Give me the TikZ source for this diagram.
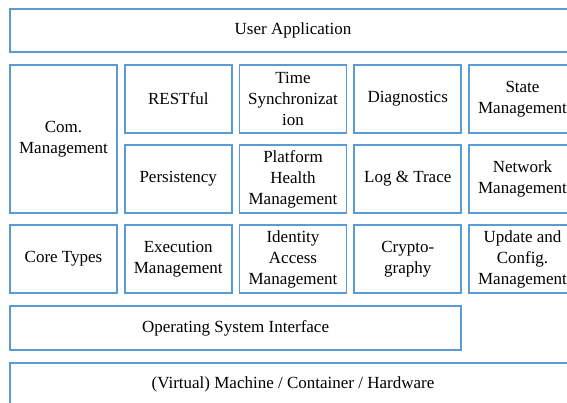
\documentclass[tikz,border=0pt]{standalone}
\usepackage{fontspec}
\setmainfont{Liberation Serif}[Ligatures=TeX]
\definecolor{boxblue}{RGB}{91,155,213}
\tikzset{
	blk/.style={draw=boxblue,line width=1.6pt,minimum width=107pt,minimum height=68pt,
		inner sep=1pt,align=center,font=\rmfamily\fontsize{17}{21}\selectfont},
	wideblk/.style={blk,minimum height=43pt}
}
\begin{document}
\begin{tikzpicture}[x=1pt,y=-1pt]
	
	\clip (0,0) rectangle (567,403);
	
	\node[wideblk,minimum width=566pt] (app) at (293,30.5) {User Application};
	
	\node[blk,minimum height=148pt] (com) at (63.5,139) {Com.\\Management};
	\node[blk] (rest) at (178.25,99) {RESTful};
	\node[blk] (time) at (293,99) {Time\\Synchronizat\\ion};
	\node[blk] (diag) at (407.75,99) {Diagnostics};
	\node[blk] (state) at (522.5,99) {State\\Management};
	
	\node[blk] (pers) at (178.25,179) {Persistency};
	\node[blk] (phm) at (293,179) {Platform\\Health\\Management};
	\node[blk] (log) at (407.75,179) {Log \& Trace};
	\node[blk] (net) at (522.5,179) {Network\\Management};
	
	\node[blk] (core) at (63.5,259) {Core Types};
	\node[blk] (exec) at (178.25,259) {Execution\\Management};
	\node[blk] (iam) at (293,259) {Identity\\Access\\Management};
	\node[blk] (crypto) at (407.75,259) {Crypto-\\graphy};
	\node[blk] (ucm) at (522.5,259) {Update and\\Config.\\Management};
	
	\node[wideblk,minimum width=451.25pt,minimum height=44pt] (osi) at (235.6,328) {Operating System Interface};
	\node[wideblk,minimum width=566pt] (hw) at (293,384.5) {(Virtual) Machine / Container / Hardware};
	
\end{tikzpicture}
\end{document}
